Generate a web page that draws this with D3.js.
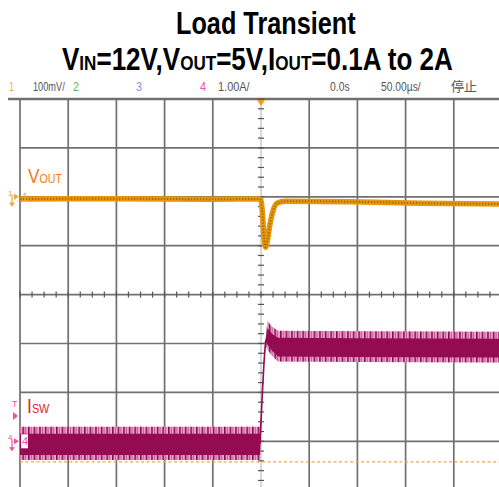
<!DOCTYPE html>
<html>
<head>
<meta charset="utf-8">
<script src="https://cdn.jsdelivr.net/npm/d3@7"></script>
<style>
  html, body { margin: 0; padding: 0; background: #fff; }
  svg { display: block; }
</style>
</head>
<body>
<svg id="chart"></svg>
<script>
// scope grid: 10 x 8 divisions, 50 us/div, trigger in the middle
const timeTicks = [-250, -200, -150, -100, -50, 0, 50, 100, 150, 200, 250];
const divTicks = [-4, -3, -2, -1, 0, 1, 2, 3, 4];

// CH1 Vout (AC), deviation in mV, 100 mV/div
const voutTime = [-250, -150, -50, -2, 0, 1.6, 3.1, 4.7, 6.7, 9.3, 12.4, 16.6, 24.9, 92, 165, 250];
const voutMv   = [-4.5, -4, -5, -4.5, -6.5, -37, -82, -103, -88, -56, -29, -13, -9, -10, -13, -15];

// CH4 switch current envelope, A, 1 A/div
const iswTime = [-250, -2.1, -1.0, 1.0, 3.1, 4.7, 6.7, 11.4, 17.6, 100, 250];
const iswHigh = [0.30, 0.30, 0.30, 0.86, 1.67, 2.10, 2.46, 2.34, 2.26, 2.25, 2.24];
const iswLow  = [-0.38, -0.38, -0.38, 0.80, 1.54, 1.97, 1.87, 1.75, 1.63, 1.62, 1.61];

// channel settings
const ch1Scale = 100;   // mV/div
const ch1Offset = 2;    // divisions
const ch4Scale = 1;     // A/div
const ch4Offset = -3;
const cursorLevel = [-3.42];   // orange dotted level, divisions

const headerLabels = ["1", "100mV/", "2", "3", "4", "1.00A/", "0.0s", "50.00µs/", "停止"];

const width = 499, height = 487;
const svg = d3.select("#chart").attr("width", width).attr("height", height);

const x = d3.scaleLinear().domain([-250, 250]).range([20, 502]);
const yDiv = d3.scaleLinear().domain([-4, 4]).range([490.2, 99]);
const yV = v => yDiv(ch1Offset + v / ch1Scale);
const yI = v => yDiv(ch4Offset + v / ch4Scale);

// squeeze text horizontally to a measured width
function fit(sel, x0, y0, w) {
    const bw = sel.node().getBBox().width;
    sel.attr("transform", `translate(${x0},${y0}) scale(${w / bw},1)`);
    return sel;
}

// ---- title
const titleFont = "Liberation Sans, Arial, sans-serif";
fit(svg.append("text").attr("font-family", titleFont).attr("font-weight", "bold")
    .attr("font-size", 32).text("Load Transient"), 176, 34, 180);

const t2 = svg.append("text").attr("font-family", titleFont).attr("font-weight", "bold").attr("font-size", 32);
[["V", 0], ["IN", 1], ["=12V,V", 0], ["OUT", 1], ["=5V,I", 0], ["OUT", 1], ["=0.1A to 2A", 0]].forEach(([s, sub]) => {
    t2.append("tspan").text(s).attr("font-size", sub ? 21 : 32);
});
fit(t2, 62, 70, 391);

// ---- header line of the scope
const header = svg.append("g").attr("font-family", "Liberation Sans, Arial, sans-serif").attr("font-size", 13);
const headerX = [9, 33, 73, 136, 200, 218, 330, 381, 451];
const headerW = [5, 32, 6, 6, 6, 32, 20, 40, 26];
const headerC = ["#f3a74a", "#555", "#5cb84a", "#7b8fe0", "#ee4f9e", "#555", "#555", "#555", "#555"];
headerLabels.forEach((s, i) => {
    const tx = header.append("text").text(s).attr("fill", headerC[i]);
    if (s === "停止") tx.attr("font-family", "Noto Sans CJK JP").attr("font-size", 13);
    fit(tx, headerX[i], 91, headerW[i]);
});

// ---- grid
const grid = svg.append("g");
grid.selectAll(".v").data(timeTicks).enter().append("line")
    .attr("x1", d => x(d)).attr("x2", d => x(d))
    .attr("y1", yDiv(4)).attr("y2", height)
    .attr("stroke", d => d === 0 ? "#b0b0b0" : "#707070")
    .attr("stroke-width", d => d === 0 ? 1 : 1.7);
grid.selectAll(".h").data(divTicks).enter().append("line")
    .attr("x1", x(-250)).attr("x2", width)
    .attr("y1", d => yDiv(d)).attr("y2", d => yDiv(d))
    .attr("stroke", "#707070")
    .attr("stroke-width", 1.7);
grid.append("line").attr("x1", 8).attr("x2", width).attr("y1", yDiv(4)).attr("y2", yDiv(4))
    .attr("stroke", "#707070").attr("stroke-width", 2.4);

// minor ticks on the centre lines
const hMinor = d3.range(-250, 250.1, 12.5);
grid.selectAll(".hm").data(hMinor).enter().append("line")
    .attr("x1", d => x(d)).attr("x2", d => x(d))
    .attr("y1", yDiv(0) - 3).attr("y2", yDiv(0) + 3)
    .attr("stroke", "#555").attr("stroke-width", 1.2);
const vMinor = d3.range(-4, 4.01, 0.2);
grid.selectAll(".vm").data(vMinor).enter().append("line")
    .attr("x1", x(0) - 3).attr("x2", x(0) + 3)
    .attr("y1", d => yDiv(d)).attr("y2", d => yDiv(d))
    .attr("stroke", "#555").attr("stroke-width", 1.2);

// orange dotted level
svg.selectAll(".lvl").data(cursorLevel).enter().append("line")
    .attr("x1", x(-250)).attr("x2", width)
    .attr("y1", d => yDiv(d)).attr("y2", d => yDiv(d))
    .attr("stroke", "#f5a84a").attr("stroke-width", 1.4).attr("stroke-dasharray", "3,2.5");

// ---- CH4 switch current
const defs = svg.append("defs");
const pat = defs.append("pattern").attr("id", "ripple").attr("patternUnits", "userSpaceOnUse")
    .attr("width", 5.6).attr("height", 4);
pat.append("rect").attr("width", 1.6).attr("height", 4).attr("fill", "#8f0a4c");
pat.append("rect").attr("x", 3).attr("width", 0.8).attr("height", 4).attr("fill", "#b8407e");

const isw = iswTime.map((t, i) => ({ t: t, hi: iswHigh[i], lo: iswLow[i] }));
const band = d3.area().x(d => x(d.t)).y0(d => yI(d.lo)).y1(d => yI(d.hi));
svg.append("path").datum(isw).attr("d", band).attr("fill", "#eca6d0");
svg.append("path").datum(isw).attr("d", band).attr("fill", "url(#ripple)");
const inner = d3.area().x(d => x(d.t))
    .y0(d => Math.max(yI(d.lo) - 5, (yI(d.lo) + yI(d.hi)) / 2))
    .y1(d => Math.min(yI(d.hi) + 7, (yI(d.lo) + yI(d.hi)) / 2));
svg.append("path").datum(isw).attr("d", inner).attr("fill", "#940b52");
svg.append("path").datum(isw)
    .attr("d", d3.line().x(d => x(d.t)).y(d => (yI(d.lo) + yI(d.hi)) / 2))
    .attr("fill", "none").attr("stroke", "#940b52").attr("stroke-width", 1.6);

// ---- CH1 output voltage
const vout = voutTime.map((t, i) => ({ t: t, v: voutMv[i] }));
const vline = d3.line().x(d => x(d.t)).y(d => yV(d.v)).curve(d3.curveMonotoneX);
svg.append("path").datum(vout).attr("d", vline)
    .attr("fill", "none").attr("stroke", "#e8960c").attr("stroke-width", 5.5);
svg.append("path").datum(vout).attr("d", vline)
    .attr("fill", "none").attr("stroke", "#8a5708").attr("stroke-width", 2)
    .attr("stroke-dasharray", "1.2,1.8").attr("opacity", 0.75);

// ---- trace labels
const lab = svg.append("g").attr("font-family", "Liberation Sans, Arial, sans-serif");
const vl = lab.append("text").attr("fill", "#f47b20").attr("font-size", 21);
vl.append("tspan").text("V");
vl.append("tspan").text("OUT").attr("font-size", 13);
fit(vl, 28, 183, 34);
const il = lab.append("text").attr("fill", "#d9262e").attr("font-size", 21);
il.append("tspan").text("I");
il.append("tspan").text("SW").attr("font-size", 13);
fit(il, 27, 413, 23);

// ---- channel markers on the left
function marker(yy, color, label, boxed) {
    const g = svg.append("g").attr("fill", color).attr("stroke", color);
    g.append("text").text(label).attr("x", 8).attr("y", yy - 1).attr("font-size", 8)
        .attr("stroke", "none").attr("font-family", "Liberation Sans, Arial, sans-serif");
    g.append("line").attr("x1", 12).attr("x2", 12).attr("y1", yy - 2).attr("y2", yy + 8).attr("stroke-width", 1.2);
    g.append("path").attr("d", `M9,${yy + 6}L12,${yy + 10}L15,${yy + 6}Z`).attr("stroke", "none");
    g.append("path").attr("d", `M14,${yy - 3}L19,${yy}L14,${yy + 3}Z`).attr("stroke", "none");
    if (boxed) {
        svg.append("rect").attr("x", 21).attr("y", yy - 7).attr("width", 7).attr("height", 14).attr("fill", "#fff");
    }
    svg.append("text").text(label).attr("x", 22).attr("y", yy + 4).attr("fill", color)
        .attr("font-size", 11).attr("font-family", "Liberation Sans, Arial, sans-serif");
}
marker(yV(0), "#f3a43c", "1", false);
marker(yI(0), "#f0509e", "4", true);

// trigger level and position
svg.append("text").text("T").attr("x", 12).attr("y", 407).attr("fill", "#f0509e")
    .attr("font-size", 9).attr("font-family", "Liberation Sans, Arial, sans-serif");
svg.append("path").attr("d", "M13,412L18,416L13,420Z").attr("fill", "#f0509e");
svg.append("path").attr("d", `M${x(0) - 4},${yDiv(4) + 1}L${x(0) + 4},${yDiv(4) + 1}L${x(0)},${yDiv(4) + 7}Z`)
    .attr("fill", "#f39a1e");
</script>
</body>
</html>
